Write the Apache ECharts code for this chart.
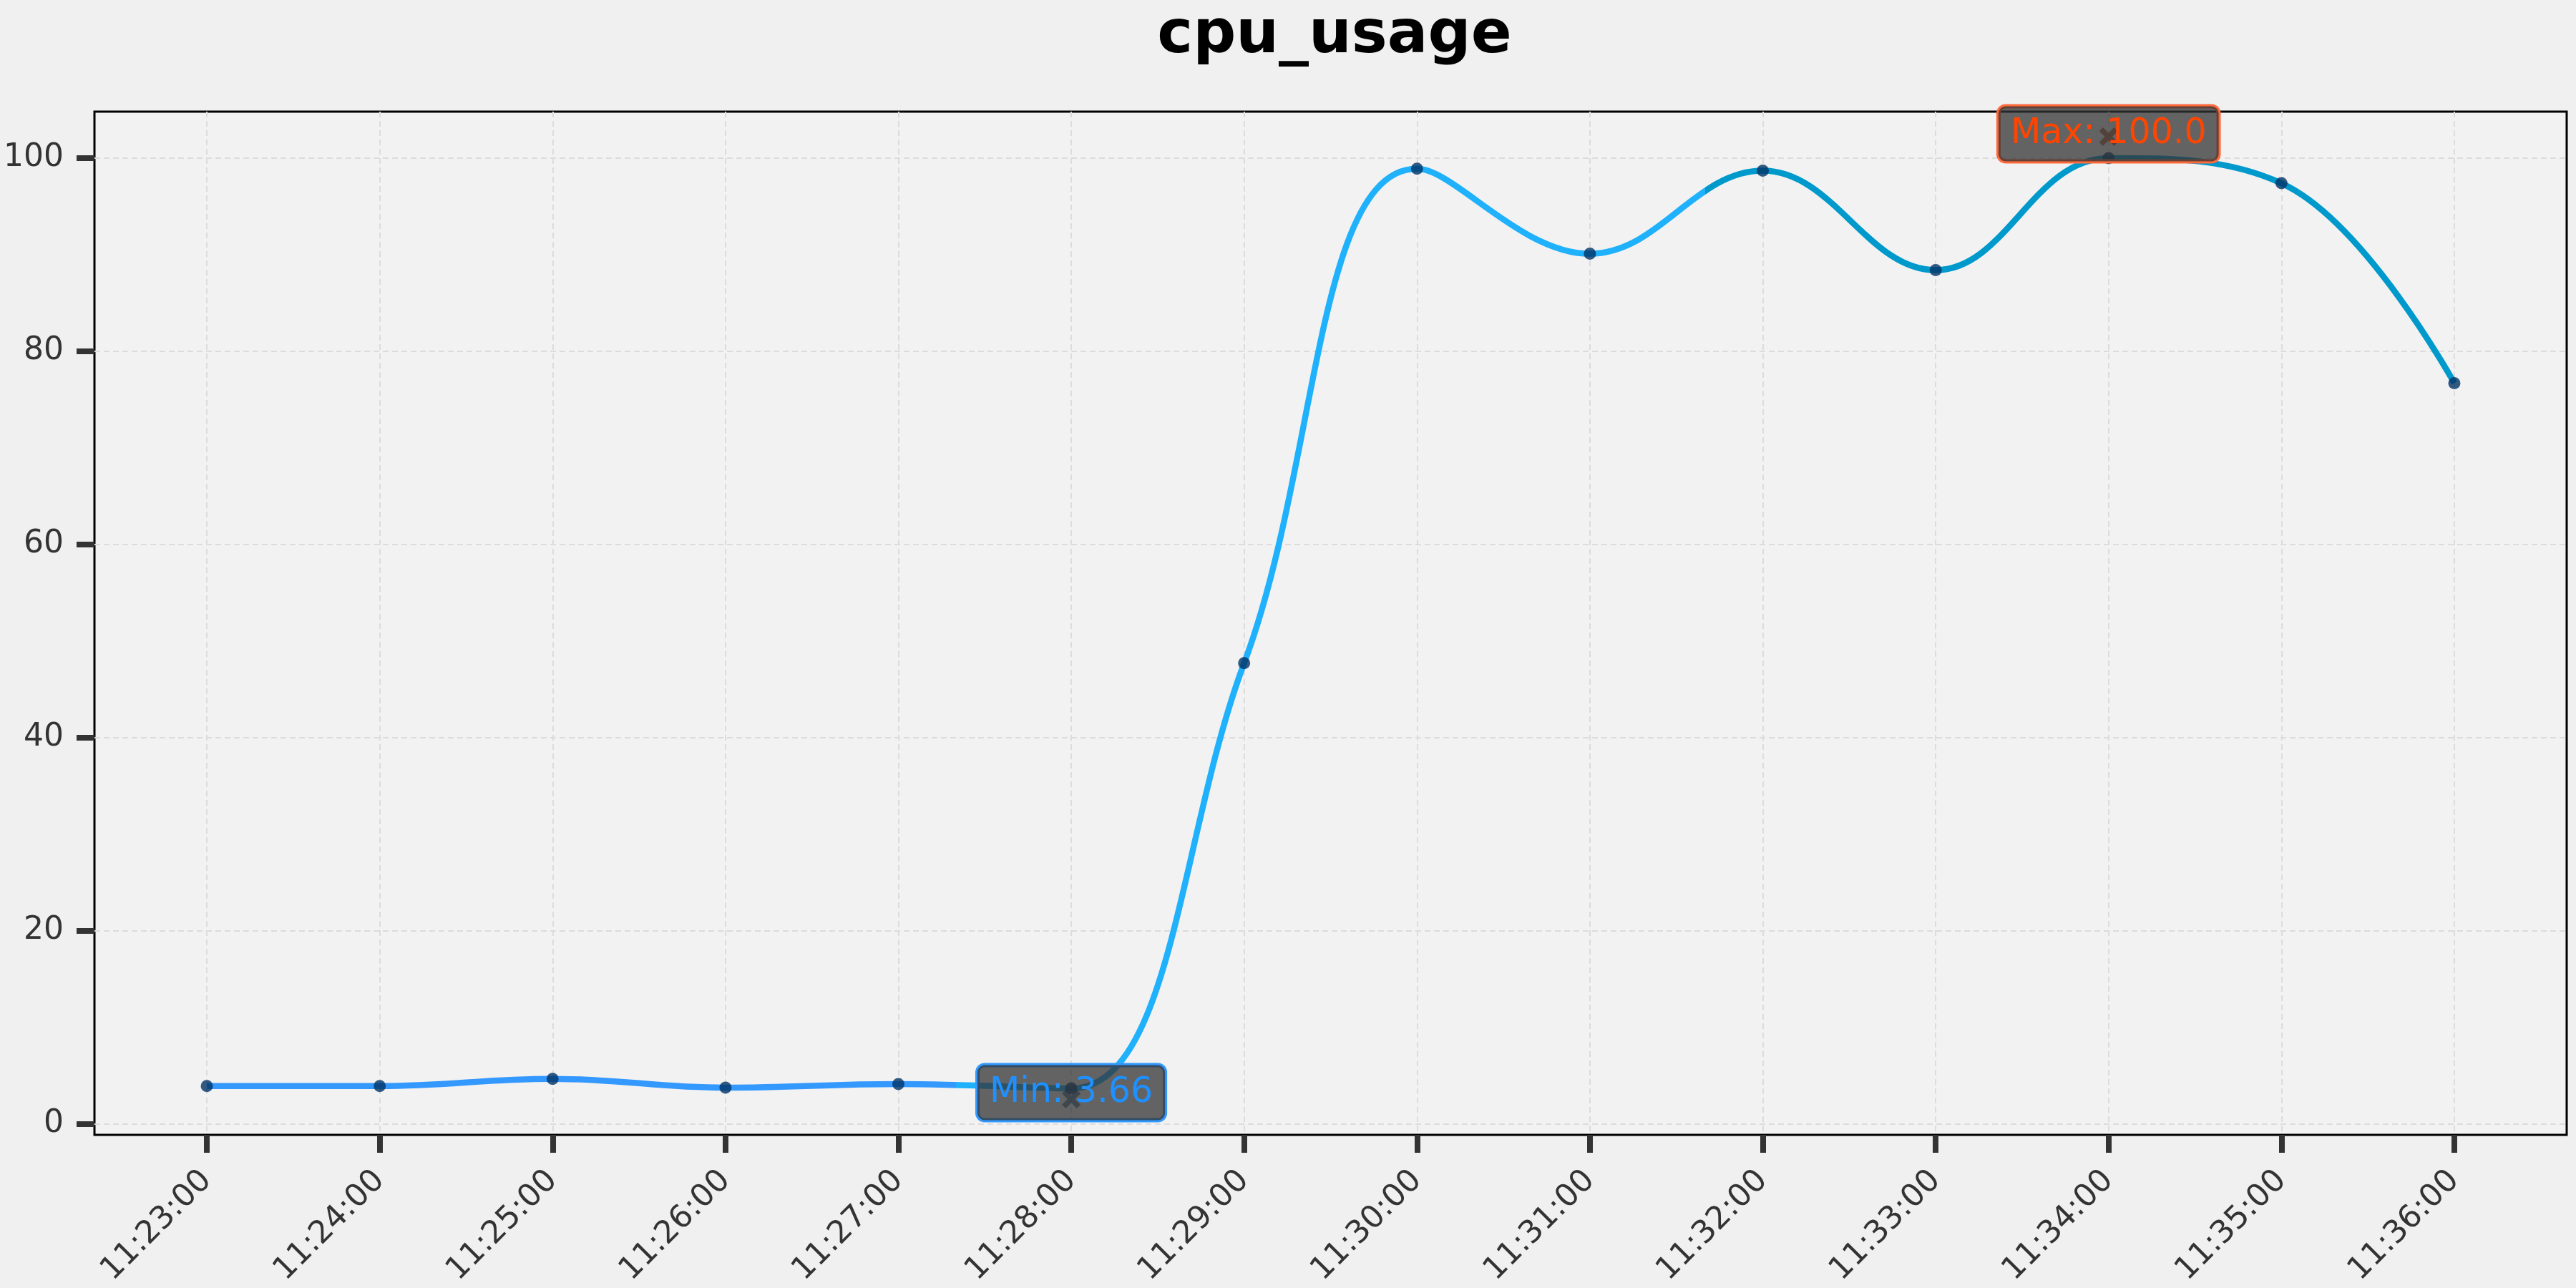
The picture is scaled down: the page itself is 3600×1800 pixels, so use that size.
<!DOCTYPE html>
<html>
<head>
<meta charset="utf-8">
<script src="https://cdn.jsdelivr.net/npm/echarts@6/dist/echarts.min.js"></script>
<style>
html,body{margin:0;padding:0;background:#f0f0f0;}
#chart{width:3600px;height:1800px;}
</style>
</head>
<body>
<div id="chart"></div>
<script>
const times = ['11:23:00','11:24:00','11:25:00','11:26:00','11:27:00','11:28:00','11:29:00',
               '11:30:00','11:31:00','11:32:00','11:33:00','11:34:00','11:35:00','11:36:00'];
const cpuUsage = [3.90, 3.90, 4.65, 3.73, 4.10, 3.66, 47.7, 98.9, 90.1, 98.7, 88.4, 100.0, 97.4, 76.7];
const yTicks = [0, 20, 40, 60, 80, 100];

const idx = times.map((t, i) => i);
const points = cpuUsage.map((v, i) => [i, v]);
const n = times.length - 1;
const yMin = Math.min(...cpuUsage), yMax = Math.max(...cpuUsage);
const yPad = (yMax - yMin) * 0.05;

const fmt = v => (Number.isInteger(v) ? v.toFixed(1) : String(v));
const FONT = 'DejaVu Sans';
const xShape = 'path://M2,0L5,3L8,0L10,2L7,5L10,8L8,10L5,7L2,10L0,8L3,5L0,2Z';

const chart = echarts.init(document.getElementById('chart'), null, {renderer: 'canvas'});
chart.setOption({
  backgroundColor: '#f0f0f0',
  animation: false,
  title: {
    text: 'cpu_usage',
    left: 1860, top: 4, textAlign: 'center',
    textStyle: {fontFamily: FONT, fontWeight: 'bold', fontSize: 84, color: '#000'}
  },
  grid: {
    left: 132, right: 13, top: 156, bottom: 214,
    show: true, backgroundColor: '#f2f2f2', borderColor: '#000', borderWidth: 3,
    outerBoundsMode: 'none'
  },
  visualMap: {
    show: false, type: 'piecewise', dimension: 0, seriesIndex: 0,
    pieces: [
      {lt: n / 3, color: '#3399ff'},
      {gte: n / 3, lt: 2 * n / 3, color: '#1fb1fb'},
      {gte: 2 * n / 3, color: '#0099cc'}
    ]
  },
  xAxis: {
    type: 'value', min: -0.05 * n, max: n * 1.05,
    axisLine: {show: false, onZero: false},
    axisTick: {show: true, customValues: idx, length: 25, lineStyle: {color: '#333', width: 8}},
    axisLabel: {
      customValues: idx, rotate: 45, margin: 57,
      fontFamily: FONT, fontSize: 44, color: '#333',
      formatter: v => times[Math.round(v)]
    },
    splitLine: {show: true, lineStyle: {color: '#dcdcdc', width: 2, type: [8, 5]}}
  },
  yAxis: {
    type: 'value', min: yMin - yPad, max: yMax + yPad,
    axisLine: {show: false, onZero: false},
    axisTick: {show: true, customValues: yTicks, length: 25, lineStyle: {color: '#333', width: 8}},
    axisLabel: {customValues: yTicks, margin: 43, fontFamily: FONT, fontSize: 44, color: '#333'},
    splitLine: {show: true, lineStyle: {color: '#dcdcdc', width: 2, type: [8, 5]}}
  },
  series: [
    {
      type: 'line', data: points, smooth: 0.4, showSymbol: false,
      lineStyle: {width: 8.5},
      z: 2,
      markPoint: {
        z: 5,
        data: [
          {
            type: 'min', symbol: xShape, symbolSize: 26, symbolOffset: [0, 15],
            itemStyle: {color: 'rgba(0,51,102,0.6)'},
            label: {
              show: true, position: 'inside', offset: [0, -9],
              formatter: p => 'Min: ' + fmt(p.value),
              fontFamily: FONT, fontSize: 49, color: '#1e90ff',
              backgroundColor: 'rgba(51,51,51,0.75)', borderColor: '#3399ff', borderWidth: 3,
              borderRadius: 10, padding: [10, 17], lineHeight: 57
            }
          },
          {
            type: 'max', symbol: xShape, symbolSize: 26, symbolOffset: [0, -30],
            itemStyle: {color: 'rgba(139,40,0,0.65)'},
            label: {
              show: true, position: 'inside', offset: [0, -4],
              formatter: p => 'Max: ' + fmt(p.value),
              fontFamily: FONT, fontSize: 49, color: '#ff4500',
              backgroundColor: 'rgba(51,51,51,0.75)', borderColor: '#ff6a3d', borderWidth: 3,
              borderRadius: 10, padding: [10, 17], lineHeight: 57
            }
          }
        ]
      }
    },
    {
      type: 'scatter', data: points, symbol: 'circle', symbolSize: 17,
      itemStyle: {color: '#003366'}, z: 3
    }
  ]
});
</script>
</body>
</html>
